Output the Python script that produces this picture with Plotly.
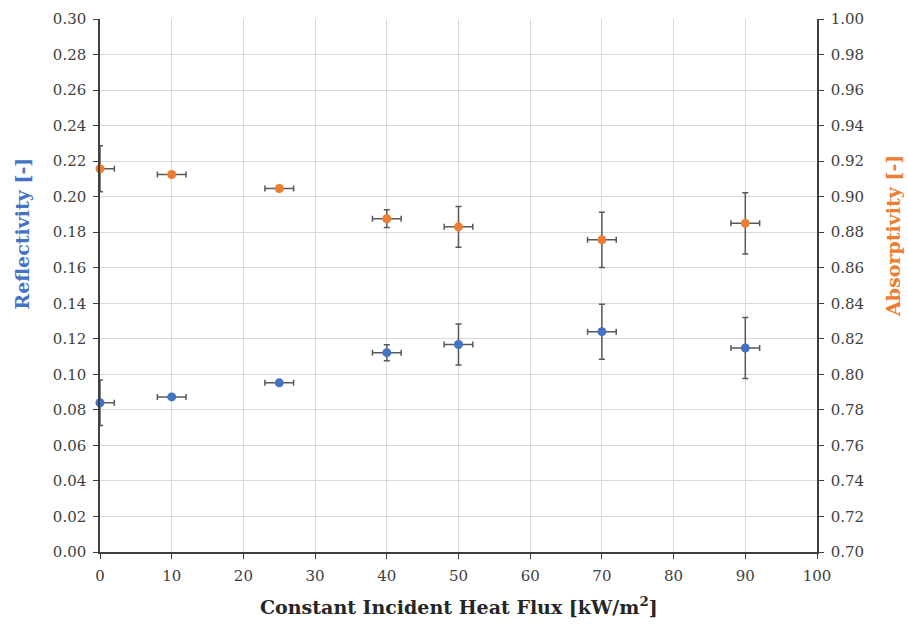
import plotly.graph_objects as go

heat_flux = [0, 10, 25, 40, 50, 70, 90]
flux_err = [2, 2, 2, 2, 2, 2, 2]
flux_err_minus = [0, 2, 2, 2, 2, 2, 2]

reflectivity = [0.0840, 0.0873, 0.0952, 0.1122, 0.1168, 0.1240, 0.1148]
reflectivity_err = [0.0128, 0.0, 0.0, 0.0045, 0.0115, 0.0155, 0.0172]

absorptivity = [0.9157, 0.9125, 0.9046, 0.8876, 0.8830, 0.8757, 0.8850]
absorptivity_err = [0.0130, 0.0, 0.0, 0.0050, 0.0115, 0.0155, 0.0172]

BLUE = "#4472C4"
ORANGE = "#ED7D31"
ERR = "#595959"
FONT = "DejaVu Serif, Liberation Serif, serif"

fig = go.Figure()

fig.add_trace(go.Scatter(
    x=heat_flux, y=reflectivity, mode="markers", name="Reflectivity",
    marker=dict(color=BLUE, size=9),
    error_x=dict(type="data", array=flux_err, arrayminus=flux_err_minus, symmetric=False,
                 color=ERR, thickness=1.5, width=3),
    error_y=dict(type="data", array=reflectivity_err, color=ERR, thickness=1.5, width=3),
    cliponaxis=False, yaxis="y",
))
fig.add_trace(go.Scatter(
    x=heat_flux, y=absorptivity, mode="markers", name="Absorptivity",
    marker=dict(color=ORANGE, size=9),
    error_x=dict(type="data", array=flux_err, arrayminus=flux_err_minus, symmetric=False,
                 color=ERR, thickness=1.5, width=3),
    error_y=dict(type="data", array=absorptivity_err, color=ERR, thickness=1.5, width=3),
    cliponaxis=False, yaxis="y2",
))


def axis_common():
    return dict(
        showline=True, linecolor="#404040", linewidth=1.5,
        ticks="outside", ticklen=5, tickcolor="#404040", tickwidth=1,
        tickfont=dict(family=FONT, size=15, color="#404040"),
        ticklabelstandoff=4,
        zeroline=False, automargin=False,
    )


fig.update_layout(
    width=908, height=624,
    margin=dict(l=100, r=91, t=19, b=72),
    paper_bgcolor="white", plot_bgcolor="white",
    showlegend=False,
    font=dict(family=FONT, size=15, color="#404040"),
    xaxis=dict(
        range=[0, 100], dtick=10, tick0=0,
        showgrid=True, gridcolor="#D9D9D9", gridwidth=1,
        **axis_common(),
    ),
    yaxis=dict(
        range=[0, 0.30], dtick=0.02, tick0=0, tickformat=".2f",
        showgrid=True, gridcolor="#D9D9D9", gridwidth=1,
        **axis_common(),
    ),
    yaxis2=dict(
        range=[0.70, 1.00], dtick=0.02, tick0=0.70, tickformat=".2f",
        overlaying="y", side="right", showgrid=False,
        **axis_common(),
    ),
    annotations=[
        dict(text="<b>Constant Incident Heat Flux [kW/m<sup>2</sup>]</b>",
             xref="paper", yref="paper", x=0.5, y=-0.102, showarrow=False,
             xanchor="center", yanchor="middle",
             font=dict(family=FONT, size=19, color="#262626")),
        dict(text="<b>Reflectivity [-]</b>", xref="paper", yref="paper",
             x=-0.109, y=0.597, textangle=-90, showarrow=False,
             xanchor="center", yanchor="middle",
             font=dict(family=FONT, size=19, color=BLUE)),
        dict(text="<b>Absorptivity [-]</b>", xref="paper", yref="paper",
             x=1.106, y=0.593, textangle=-90, showarrow=False,
             xanchor="center", yanchor="middle",
             font=dict(family=FONT, size=19, color=ORANGE)),
    ],
)

fig.write_html("out.html")
